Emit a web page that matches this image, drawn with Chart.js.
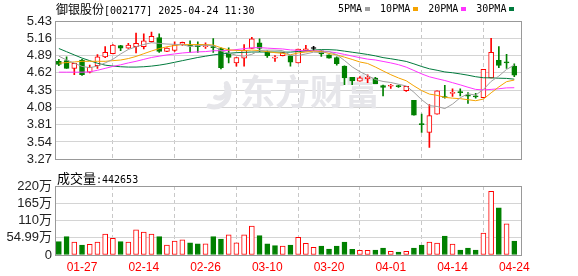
<!DOCTYPE html>
<html>
<head>
<meta charset="utf-8">
<script src="https://cdn.jsdelivr.net/npm/chart.js@4.4.1/dist/chart.umd.min.js"></script>
<style>
  html, body { margin: 0; padding: 0; background: #fff; }
  #wrap { position: relative; width: 578px; height: 276px; overflow: hidden; }
  #kChart { position: absolute; left: 0; top: 0; }
  #volChart { position: absolute; left: 0; top: 170px; }
  .txt { position: absolute; white-space: nowrap; color: #000; line-height: 14px; }
  .cjk { font-family: "Noto Sans CJK SC", sans-serif; font-size: 12px; }
  .asc { font-family: "DejaVu Sans Mono", monospace; font-size: 10px; }
  #legend { position: absolute; left: 338px; top: 2px; display: flex; align-items: center; line-height: 14px; }
  #legend .item { display: flex; align-items: center; margin-right: 10px; }
  #legend .sq { display: inline-block; width: 5px; height: 4px; margin-left: 3px; }
</style>
</head>
<body>
<div id="wrap">
  <canvas id="kChart" width="578" height="170"></canvas>
  <canvas id="volChart" width="578" height="106"></canvas>
  <div class="txt" style="left:56px; top:2px;"><span class="cjk">御银股份</span><span class="asc">[002177] 2025-04-24 11:30</span></div>
  <div id="legend"></div>
  <div class="txt" style="left:57px; top:171px;"><span class="cjk" style="font-size:13px">成交量</span><span class="asc">:442653</span></div>
</div>
<script>
// 交易日
const dates = ['01-22','01-23','01-24','01-27','02-05','02-06','02-07','02-10','02-11','02-12',
  '02-13','02-14','02-17','02-18','02-19','02-20','02-21','02-24','02-25','02-26',
  '02-27','02-28','03-03','03-04','03-05','03-06','03-07','03-10','03-11','03-12',
  '03-13','03-14','03-17','03-18','03-19','03-20','03-21','03-24','03-25','03-26',
  '03-27','03-28','03-31','04-01','04-02','04-03','04-07','04-08','04-09','04-10',
  '04-11','04-14','04-15','04-16','04-17','04-18','04-21','04-22','04-23','04-24'];
const axisDates = ['01-27','02-14','02-26','03-10','03-20','04-01','04-14','04-24'];

const openP = [4.80,4.81,4.69,4.82,4.63,4.73,4.87,4.92,5.045,5.005,
  5.03,5.03,5.105,5.17,4.955,4.97,5.065,5.045,5.035,5.03,
  5.025,5.00,4.925,4.775,4.85,5.00,5.09,4.95,4.85,4.89,
  4.885,4.775,4.965,5.00,4.965,4.90,4.86,4.725,4.55,4.49,
  4.53,4.535,4.42,4.41,4.415,4.34,4.19,3.815,3.69,3.975,
  4.245,4.30,4.32,4.265,4.255,4.23,4.54,4.815,4.78,4.725];
const highP = [4.83,4.87,4.77,4.83,4.74,4.905,5.03,5.06,5.05,5.08,
  5.24,5.23,5.255,5.23,5.01,5.105,5.10,5.12,5.105,5.09,
  5.155,5.01,5.01,4.86,5.06,5.175,5.15,4.965,4.89,4.94,
  4.89,4.99,5.05,5.035,4.965,4.90,4.87,4.73,4.55,4.56,
  4.59,4.55,4.43,4.44,4.43,4.41,4.19,3.975,4.125,4.34,
  4.425,4.37,4.37,4.31,4.30,4.675,5.16,5.03,4.91,4.76];
const lowP = [4.73,4.69,4.59,4.58,4.62,4.69,4.855,4.915,4.965,5.00,
  4.93,4.995,5.10,4.94,4.95,4.955,5.05,4.94,4.94,5.00,
  4.94,4.68,4.775,4.725,4.725,5.00,4.95,4.86,4.80,4.885,
  4.725,4.775,4.965,4.965,4.875,4.85,4.74,4.435,4.435,4.49,
  4.465,4.45,4.26,4.375,4.39,4.33,3.96,3.69,3.455,3.975,
  4.225,4.25,4.26,4.14,4.225,4.23,4.54,4.70,4.69,4.56];
const closeP = [4.75,4.69,4.77,4.59,4.705,4.87,4.94,5.055,5.005,5.055,
  5.08,5.12,5.19,4.955,5.005,5.055,5.095,5.04,5.03,5.04,
  5.015,4.70,4.86,4.86,4.975,5.15,5.00,4.89,4.86,4.935,
  4.785,4.99,4.995,5.00,4.915,4.85,4.765,4.54,4.495,4.54,
  4.55,4.45,4.39,4.415,4.405,4.41,3.96,3.81,3.95,4.34,
  4.235,4.315,4.31,4.255,4.245,4.675,4.94,4.735,4.775,4.585];
// 成交量(万)
const volume = [42.5,58.5,41.5,32,34,41.5,67,53,42.5,41.5,
  80,73.4,67,58.5,32,44.7,48,39,36,36,
  58.5,51,64,39,64,92.5,61.7,36,29.8,28.7,
  32,56.5,37,24.5,28.7,19,28.7,41.5,18,15,
  15,16,22.3,11.7,9.6,11.7,22.3,32,41.5,38,
  60.6,35,16,22.3,16,70,203,150,99,44.27];

const ma5 = [4.88,4.82,4.77,4.72,4.701,4.725,4.775,4.832,4.915,4.985,
  5.027,5.063,5.09,5.08,5.07,5.065,5.06,5.03,5.045,5.052,
  5.043,4.964,4.928,4.894,4.882,4.909,4.969,4.975,4.975,4.967,
  4.894,4.892,4.915,4.943,4.938,4.951,4.904,4.813,4.713,4.638,
  4.578,4.515,4.485,4.469,4.442,4.414,4.316,4.2,4.107,4.094,
  4.061,4.131,4.231,4.292,4.272,4.36,4.486,4.569,4.673,4.741];
const ma10 = [4.77,4.78,4.79,4.80,4.80,4.80,4.80,4.81,4.82,4.843,
  4.876,4.919,4.961,4.998,5.028,5.046,5.062,5.06,5.063,5.062,
  5.054,5.012,4.979,4.970,4.967,4.976,4.967,4.952,4.935,4.925,
  4.902,4.931,4.945,4.959,4.953,4.923,4.90,4.865,4.829,4.789,
  4.766,4.711,4.650,4.591,4.54,4.496,4.416,4.343,4.288,4.268,
  4.237,4.224,4.216,4.2,4.184,4.21,4.307,4.4,4.482,4.507];
const ma20 = [4.63,4.63,4.63,4.63,4.635,4.66,4.69,4.72,4.745,4.775,
  4.80,4.83,4.86,4.88,4.90,4.915,4.93,4.94,4.947,4.952,
  4.965,4.966,4.97,4.984,4.997,5.011,5.014,5.006,4.999,4.993,
  4.978,4.972,4.962,4.965,4.96,4.95,4.933,4.908,4.882,4.857,
  4.834,4.821,4.798,4.775,4.747,4.709,4.657,4.603,4.558,4.528,
  4.50,4.466,4.432,4.395,4.361,4.353,4.361,4.371,4.385,4.387];
const ma30 = [5.00,4.95,4.90,4.85,4.81,4.77,4.74,4.725,4.715,4.71,
  4.71,4.715,4.725,4.74,4.76,4.785,4.81,4.835,4.86,4.88,
  4.90,4.915,4.925,4.935,4.94,4.945,4.945,4.945,4.945,4.943,
  4.944,4.954,4.962,4.976,4.983,4.982,4.976,4.959,4.942,4.925,
  4.907,4.885,4.858,4.84,4.82,4.798,4.76,4.719,4.683,4.66,
  4.634,4.621,4.603,4.583,4.559,4.543,4.541,4.536,4.533,4.521];

const priceTicks = [3.27,3.54,3.81,4.08,4.35,4.62,4.89,5.16,5.43];
const volTicks = [0,54.99,109.98,164.97,219.96];
const volTickLabels = ['0','54.99万','110万','165万','220万'];

const maNames = ['5PMA','10PMA','20PMA','30PMA'];
const maSeries = [ma5, ma10, ma20, ma30];
const maColors = ['#a0a0a0','#f5a300','#ff33ff','#007a3d'];

const RED = '#ff0000';
const GREEN = '#008000';

const idx = dates.map((d, i) => i);
const tickIdx = axisDates.map(d => dates.indexOf(d));

// K线颜色: 收盘 vs 开盘
const candleColor = idx.map(i => closeP[i] > openP[i] ? RED : (closeP[i] < openP[i] ? GREEN : '#000'));
const bodyFill = idx.map(i => closeP[i] > openP[i] ? '#fff' : candleColor[i]);
// 成交量颜色: 收盘 vs 前收
const volColor = idx.map(i => (i > 0 && closeP[i] >= closeP[i - 1]) ? RED : GREEN);
const volFill = volColor.map(c => c === RED ? '#fff' : c);

// 图例
const legendEl = document.getElementById('legend');
maNames.forEach((name, k) => {
    const item = document.createElement('span');
    item.className = 'item';
    item.innerHTML = '<span class="asc">' + name + '</span><span class="sq" style="background:' + maColors[k] + '"></span>';
    legendEl.appendChild(item);
});

const framePlugin = {
    id: 'frame',
    afterDraw(chart) {
        const { ctx, chartArea: a } = chart;
        ctx.save();
        ctx.strokeStyle = '#999';
        ctx.lineWidth = 1;
        ctx.strokeRect(Math.round(a.left) + 0.5, Math.round(a.top) + 0.5,
            Math.round(a.right - a.left) - 1, Math.round(a.bottom - a.top));
        ctx.restore();
    }
};

// 水印
const watermarkPlugin = {
    id: 'watermark',
    beforeDatasetsDraw(chart) {
        const ctx = chart.ctx;
        ctx.save();
        ctx.fillStyle = '#e6e6ea';
        ctx.strokeStyle = '#e6e6ea';
        ctx.lineWidth = 5;
        ctx.lineCap = 'round';
        ctx.beginPath(); ctx.arc(214, 92, 15, -0.6, 1.9); ctx.stroke();
        ctx.beginPath(); ctx.arc(219, 90, 8, -0.4, 2.0); ctx.stroke();
        ctx.font = 'bold 35px "Noto Sans CJK SC"';
        ctx.textBaseline = 'middle';
        ctx.fillText('东方财富', 240, 92);
        ctx.restore();
    }
};

const xScale = (showLabels) => ({
    type: 'linear',
    min: -0.5,
    max: 60,
    offset: false,
    afterBuildTicks: s => { s.ticks = tickIdx.map(v => ({ value: v })); },
    afterFit: s => { s.height = showLabels ? 21 : 0; },
    ticks: {
        display: showLabels,
        autoSkip: false,
        maxRotation: 0,
        padding: 5,
        color: RED,
        font: { family: '"Liberation Sans", Arial', size: 12 },
        callback: v => dates[v]
    },
    grid: { color: '#c8c8c8', drawTicks: false },
    border: { display: false, dash: [4, 3] }
});

const maSets = maSeries.map((arr, k) => ({
    type: 'line',
    label: maNames[k],
    data: arr.map((v, i) => ({ x: i, y: v })),
    borderColor: maColors[k],
    borderWidth: 1,
    pointRadius: 0,
    fill: false,
    tension: 0
}));

new Chart(document.getElementById('kChart'), {
    type: 'bar',
    data: {
        datasets: [
            ...maSets,
            {
                label: 'body',
                data: idx.map(i => ({ x: i, y: [Math.min(openP[i], closeP[i]), Math.max(openP[i], closeP[i])] })),
                backgroundColor: bodyFill,
                borderColor: candleColor,
                borderWidth: 1,
                borderSkipped: false,
                barThickness: 5,
                minBarLength: 1,
                grouped: false
            },
            {
                label: 'wick',
                data: idx.map(i => ({ x: i, y: [lowP[i], highP[i]] })),
                backgroundColor: candleColor,
                barThickness: 1,
                grouped: false
            }
        ]
    },
    options: {
        responsive: false,
        animation: false,
        layout: { padding: { top: 21, right: 56, bottom: 5, left: 0 } },
        plugins: { legend: { display: false }, tooltip: { enabled: false } },
        scales: {
            x: xScale(false),
            y: {
                min: 3.27,
                max: 5.43,
                afterBuildTicks: s => { s.ticks = priceTicks.map(v => ({ value: v })); },
                afterFit: s => { s.width = 55; },
                ticks: {
                    autoSkip: false,
                    padding: 3,
                    color: '#222',
                    font: { family: '"Liberation Sans", Arial', size: 13 },
                    callback: v => v.toFixed(2)
                },
                grid: { color: '#d4d4d4', drawTicks: false },
                border: { display: false }
            }
        }
    },
    plugins: [watermarkPlugin, framePlugin]
});

new Chart(document.getElementById('volChart'), {
    type: 'bar',
    data: {
        datasets: [{
            label: '成交量',
            data: idx.map(i => ({ x: i, y: volume[i] })),
            backgroundColor: volFill,
            borderColor: volColor,
            borderWidth: 1,
            borderSkipped: false,
            barThickness: 5,
            grouped: false
        }]
    },
    options: {
        responsive: false,
        animation: false,
        layout: { padding: { top: 16, right: 56, bottom: 0, left: 0 } },
        plugins: { legend: { display: false }, tooltip: { enabled: false } },
        scales: {
            x: xScale(true),
            y: {
                min: 0,
                max: 219.96,
                afterBuildTicks: s => { s.ticks = volTicks.map(v => ({ value: v })); },
                afterFit: s => { s.width = 55; },
                ticks: {
                    autoSkip: false,
                    padding: 3,
                    color: '#222',
                    font: { family: '"Liberation Sans", "Noto Sans CJK SC"', size: 13 },
                    callback: (v, i) => volTickLabels[i]
                },
                grid: { color: '#d4d4d4', drawTicks: false },
                border: { display: false }
            }
        }
    },
    plugins: [framePlugin]
});
</script>
</body>
</html>
